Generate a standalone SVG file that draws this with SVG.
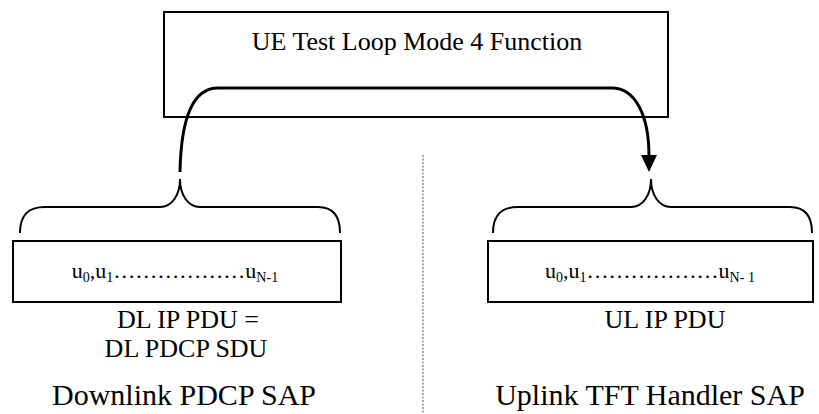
<svg xmlns="http://www.w3.org/2000/svg" width="819" height="414" viewBox="0 0 819 414">
<style>
.box{fill:#fff;stroke:#000;stroke-width:2}
.brace{fill:none;stroke:#000;stroke-width:2}
.conn{fill:none;stroke:#000;stroke-width:3}
text{font-family:"Liberation Serif","Times New Roman",serif;fill:#000;text-anchor:middle}
.t26{font-size:26px}
.t30{font-size:30px}
.u{font-size:22px}
.sub{font-size:14px}
</style>
<rect width="819" height="414" fill="#fff"/>
<g id="function">
<rect class="box" x="164" y="12" width="504" height="105"/>
<text class="t26" x="417" y="50">UE Test Loop Mode 4 Function</text>
</g>
<g id="dl">
<path class="brace" d="M20,233 C20,215 28,207 45,207 L160,207 C172,207 180,195 180,179 C180,195 188,207 200,207 L318,207 C332,207 340,215 340,233"/>
<rect class="box" x="13" y="241" width="328" height="61"/>
<text class="u" x="175" y="278">u<tspan class="sub" dy="4">0</tspan><tspan dy="-4">,u</tspan><tspan class="sub" dy="4">1</tspan><tspan dy="-4">………………u</tspan><tspan class="sub" dy="4">N-1</tspan></text>
<text class="t26" x="188" y="328">DL IP PDU =</text>
<text class="t26" x="186" y="357">DL PDCP SDU</text>
<text class="t30" x="184" y="405">Downlink PDCP SAP</text>
</g>
<g id="ul">
<path class="brace" d="M493,233 C493,215 501,207 518,207 L631,207 C643,207 651,195 651,179 C651,195 659,207 671,207 L790,207 C804,207 812,215 812,233"/>
<rect class="box" x="488" y="241" width="325" height="61"/>
<text class="u" x="650" y="278">u<tspan class="sub" dy="4">0</tspan><tspan dy="-4">,u</tspan><tspan class="sub" dy="4">1</tspan><tspan dy="-4">………………u</tspan><tspan class="sub" dy="4">N- 1</tspan></text>
<text class="t26" x="665" y="328">UL IP PDU</text>
<text class="t30" x="650" y="405">Uplink TFT Handler SAP</text>
</g>
<g id="connectors">
<path class="conn" d="M180,172 C181,120 192,88 218,88 L612,88 C635,88 649,115 649,156"/>
<polygon points="641,155 657,155 649,172" fill="#000"/>
<line x1="423" y1="155" x2="423" y2="414" stroke="#555" stroke-width="1" stroke-dasharray="2,1.5"/>
</g>
</svg>
